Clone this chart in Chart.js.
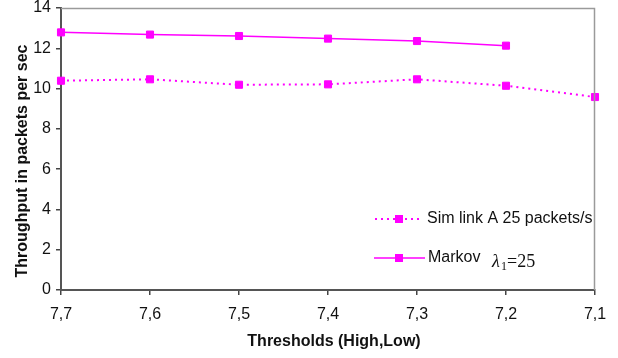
<!DOCTYPE html>
<html>
<head>
<meta charset="utf-8">
<script src="https://cdn.jsdelivr.net/npm/chart.js@4/dist/chart.umd.min.js"></script>
<style>
html,body{margin:0;padding:0;background:#fff;}
#wrap{width:618px;height:358px;position:relative;}
</style>
</head>
<body>
<div id="wrap"><canvas id="c" width="618" height="358"></canvas></div>
<script>
const categories = ["7,7","7,6","7,5","7,4","7,3","7,2","7,1"];
const simLinkA = [10.39,10.46,10.19,10.21,10.46,10.14,9.58];
const markov = [12.79,12.68,12.61,12.48,12.36,12.13,null];
const yTicks = [0,2,4,6,8,10,12,14];
const seriesNames = ["Sim link A 25 packets/s","Markov"];
const yTitle = "Throughput in packets per sec";
const xTitle = "Thresholds (High,Low)";
const MAG = "#FF00FF";
const FONT = "'Liberation Sans', Arial, sans-serif";

const framePlugin = {
  id:'frame',
  afterDatasetsDraw(chart){
    const {ctx, chartArea:a} = chart;
    ctx.save();
    ctx.strokeStyle = '#9a9a9a';
    ctx.lineWidth = 1.5;
    ctx.beginPath();
    ctx.moveTo(a.left, a.top+0.5);
    ctx.lineTo(a.right-0.5, a.top+0.5);
    ctx.lineTo(a.right-0.5, a.bottom);
    ctx.stroke();
    ctx.restore();
  }
};

const textPlugin = {
  id:'customText',
  afterDraw(chart){
    const ctx = chart.ctx;
    ctx.save();
    const y1 = 219, y2 = 258;
    ctx.strokeStyle = MAG;
    ctx.lineWidth = 2;
    ctx.setLineDash([2,4]);
    ctx.beginPath(); ctx.moveTo(375,y1); ctx.lineTo(422,y1); ctx.stroke();
    ctx.setLineDash([]);
    ctx.lineWidth = 1.5;
    ctx.beginPath(); ctx.moveTo(374,y2); ctx.lineTo(425,y2); ctx.stroke();
    ctx.fillStyle = MAG;
    ctx.fillRect(395,y1-4,8,8);
    ctx.fillRect(395,y2-4,8,8);
    ctx.fillStyle = '#111';
    ctx.font = '16px ' + FONT;
    ctx.textBaseline = 'middle';
    ctx.textAlign = 'left';
    ctx.fillText(seriesNames[0], 427, y1);
    ctx.fillText(seriesNames[1], 428, y2);
    ctx.textBaseline = 'alphabetic';
    ctx.font = 'italic 18px "Liberation Serif", "Times New Roman", serif';
    ctx.fillText('\u03BB', 492, 267);
    ctx.font = '12px "Liberation Serif", "Times New Roman", serif';
    ctx.fillText('1', 501, 270);
    ctx.font = '18px "Liberation Serif", "Times New Roman", serif';
    ctx.fillText('=25', 507, 267);
    // axis titles
    ctx.font = 'bold 16px ' + FONT;
    ctx.textBaseline = 'middle';
    ctx.textAlign = 'center';
    ctx.fillText(xTitle, 334, 342);
    ctx.translate(23, 161);
    ctx.rotate(-Math.PI/2);
    ctx.fillText(yTitle, 0, 0);
    ctx.restore();
  }
};

new Chart(document.getElementById('c'), {
  type:'line',
  data:{
    labels:categories,
    datasets:[
      {label:seriesNames[0], data:simLinkA, borderColor:MAG, backgroundColor:MAG,
       borderWidth:2, borderDash:[2,4], pointStyle:'rect', pointRadius:5, pointBorderWidth:1,
       pointBackgroundColor:MAG, pointBorderColor:MAG, tension:0},
      {label:seriesNames[1], data:markov, borderColor:MAG, backgroundColor:MAG,
       borderWidth:1.5, pointStyle:'rect', pointRadius:5, pointBorderWidth:1,
       pointBackgroundColor:MAG, pointBorderColor:MAG, tension:0, spanGaps:false}
    ]
  },
  options:{
    responsive:false,
    animation:false,
    devicePixelRatio:1,
    layout:{padding:{top:8,right:23,left:0,bottom:0}},
    plugins:{legend:{display:false},tooltip:{enabled:false}},
    scales:{
      x:{
        offset:false,
        grid:{display:true, drawOnChartArea:false, drawTicks:true, tickLength:5, color:'#444', lineWidth:1.5},
        border:{display:true, color:'#555', width:2},
        ticks:{color:'#111', font:{size:16, family:FONT}, padding:10, maxRotation:0, autoSkip:false},
        afterFit(s){ s.height = 68; s.paddingLeft = 0; s.paddingRight = 0; }
      },
      y:{
        min:0, max:14,
        afterBuildTicks(s){ s.ticks = yTicks.map(v=>({value:v})); },
        grid:{display:true, drawOnChartArea:false, drawTicks:true, tickLength:5, color:'#444', lineWidth:1.5},
        border:{display:true, color:'#555', width:2},
        ticks:{color:'#111', font:{size:16, family:FONT}, padding:5},
        afterFit(s){ s.width = 61; s.paddingTop = 0; s.paddingBottom = 0; }
      }
    }
  },
  plugins:[framePlugin, textPlugin]
});
</script>
</body>
</html>
